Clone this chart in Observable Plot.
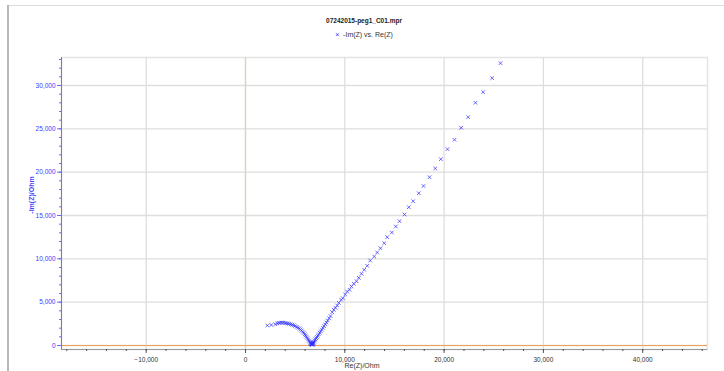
<!DOCTYPE html>
<html><head><meta charset="utf-8">
<script src="https://cdn.jsdelivr.net/npm/d3@7"></script>
<script src="https://cdn.jsdelivr.net/npm/@observablehq/plot@0.6"></script>
<style>
body{margin:0;background:#fff;}
#wrap{position:relative;width:724px;height:371px;overflow:hidden;font-family:"Liberation Sans Narrow","Liberation Sans",sans-serif;}
#wrap svg{position:absolute;left:0;top:0;}
.abs{position:absolute;white-space:nowrap;}
</style></head><body><div id="wrap"></div>
<script>
// Re(Z) values (Ohm)
const re = [2200,2600,3000,3200,3350,3500,3650,3800,3950,4100,4250,4400,4550,4700,4850,5000,5150,5300,5420,5540,5650,5760,5860,5960,6050,6140,6230,6310,6390,6460,6530,6590,6640,6690,6720,6750,
 6560,6620,6670,6700,6740,6770,6800,6820,
 6780,6840,6900,6970,7040,7120,7200,7290,7380,7480,7580,7690,7800,7910,8030,8150,8280,8420,
 8560,8731,8892,9064,9234,9395,9637,9798,10040,10241,10473,10674,10906,11178,11409,11681,11953,12255,12557,12960,13262,13595,13967,14269,14733,15135,15508,16011,16444,16887,17451,17925,18529,19103,19667,20341,21046,21721,22426,23161,23936,24842,25679];
// -Im(Z) values (Ohm)
const im = [2310,2370,2460,2560,2610,2630,2640,2630,2610,2580,2540,2500,2450,2390,2320,2240,2150,2060,1960,1850,1730,1590,1450,1300,1150,1000,850,700,560,430,320,230,160,120,100,140,
 280,190,140,170,120,190,210,300,
 260,360,460,580,700,840,980,1140,1300,1470,1650,1840,2040,2230,2440,2660,2890,3140,
 3400,3843,4120,4351,4616,4928,5274,5458,5885,6232,6428,6809,7120,7420,7813,8274,8736,9197,9809,10271,10732,11228,11805,12498,13040,13733,14344,15117,15960,16652,17575,18406,19422,20426,21499,22653,23738,25123,26346,28008,29231,30846,32577];
const xTicks = [-10000,0,10000,20000,30000,40000];
const yTicks = [0,5000,10000,15000,20000,25000,30000];
const xMinor = d3.range(-18000,46001,2000);
const yMinor = d3.range(0,33001,1000);
const title = "07242015-peg1_C01.mpr";
const seriesName = "-Im(Z) vs. Re(Z)";
const xLabel = "Re(Z)/Ohm";
const yLabel = "-Im(Z)/Ohm";

const data = re.map((x,i)=>({x, y: im[i]}));
const xDom = [-18530, 46525], yDom = [-460, 33230];
const blue = "#3030ff";
const fmt = d3.format(",");

const plot = Plot.plot({
  width:724, height:371, marginLeft:61, marginRight:17, marginTop:57, marginBottom:22,
  x:{domain:xDom}, y:{domain:yDom},
  style:{fontFamily:'"Liberation Sans Narrow","Liberation Sans",sans-serif', fontSize:"6.5px", background:"transparent", overflow:"visible"},
  marks:[
    Plot.frame({stroke:"#e4e4e4", strokeWidth:1.5}),
    Plot.gridX(xTicks,{stroke:"#dedede", strokeOpacity:1, strokeWidth:1.3}),
    Plot.gridY(yTicks,{stroke:"#dedede", strokeOpacity:1, strokeWidth:1.3}),
    Plot.ruleX([0],{stroke:"#f6c9a2", strokeWidth:1.2}),
    Plot.ruleY([0],{stroke:"#f0a055", strokeWidth:1.2}),
    Plot.ruleX([xDom[0]],{stroke:"#7070ff", strokeWidth:1}),
    Plot.ruleY([yDom[0]],{stroke:"#999", strokeWidth:1}),
    Plot.axisY(yMinor,{tickSize:2, tickFormat:()=>"", stroke:"#6a6aff", label:null}),
    Plot.axisY(yTicks,{tickSize:4, tickFormat:fmt, stroke:"#6a6aff", fill:"#3a3aff", label:null, tickPadding:2}),
    Plot.axisX(xMinor,{tickSize:2, tickFormat:()=>"", stroke:"#555", label:null}),
    Plot.axisX(xTicks,{tickSize:4, tickFormat:fmt, stroke:"#555", fill:"#333", label:null, tickPadding:4}),
    Plot.dot(data,{x:"x", y:"y", symbol:"times", r:1.8, stroke:blue, strokeWidth:0.9, strokeOpacity:0.8})
  ]
});
const wrap = document.getElementById("wrap");
wrap.appendChild(plot);

function addDiv(html, css){const d=document.createElement("div");d.className="abs";d.innerHTML=html;Object.assign(d.style,css);wrap.appendChild(d);return d;}
// frame decorations
addDiv("",{left:"7px",top:"5px",width:"2px",height:"366px",background:"#b8b8b8"});
addDiv("",{left:"9px",top:"5px",width:"715px",height:"1px",background:"#dddddd"});
// title
addDiv(title,{left:"364px",top:"17px",transform:"translateX(-50%)",fontWeight:"bold",fontSize:"6.5px",color:"#222"});
addDiv('<span style="color:'+blue+';font-size:7px">×</span>&nbsp;&nbsp;'+seriesName,{left:"364px",top:"31px",transform:"translateX(-50%)",fontSize:"7px",color:"#333"});
addDiv(xLabel,{left:"362px",top:"362px",transform:"translateX(-50%)",fontSize:"7px",color:"#333"});
addDiv(yLabel,{left:"31px",top:"195px",transform:"translate(-50%,-50%) rotate(-90deg)",fontSize:"7px",fontWeight:"bold",color:"#4a4aff"});
</script></body></html>
